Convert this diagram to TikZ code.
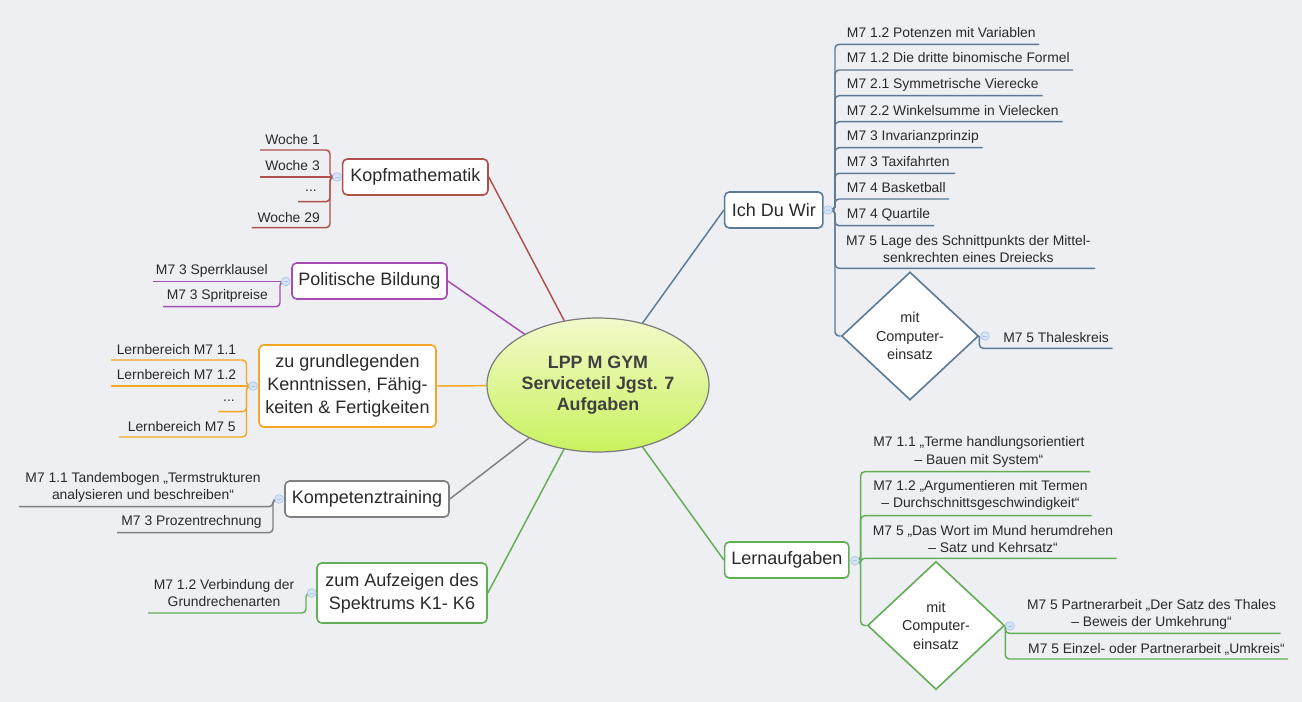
\documentclass[tikz,border=0pt]{standalone}
\usepackage{fontspec}
\setmainfont{Liberation Sans}
\usetikzlibrary{shapes.geometric}
\definecolor{bg}{HTML}{EEEFF3}
\definecolor{cK}{HTML}{B0504C}
\definecolor{cP}{HTML}{A54DB5}
\definecolor{cO}{HTML}{F5A623}
\definecolor{cG}{HTML}{808080}
\definecolor{cGr}{HTML}{62AD55}
\definecolor{cB}{HTML}{5A7A96}
\definecolor{txt}{HTML}{2A2A2A}
\definecolor{mk}{HTML}{D6E4F7}
\definecolor{mkb}{HTML}{A9C3E8}
\begin{document}
\begin{tikzpicture}[x=0.75pt,y=-0.75pt,
  topic/.style={draw=#1, line width=1.2pt, rounded corners=3.5pt, fill=white, inner sep=0pt, align=center, font=\fontsize{13.5pt}{17.2pt}\selectfont, text=txt},
  sub/.style={inner sep=0pt, font=\fontsize{10.4pt}{13.1pt}\selectfont, text=txt, align=center},
  conn/.style={draw=#1, line width=1.1pt},
  br/.style={draw=#1, line width=1.1pt, rounded corners=3pt},
  knob/.style={circle, draw=mkb, fill=mk, line width=0.5pt, minimum size=6.5pt, inner sep=0pt,
    path picture={\draw[mkb, line width=0.5pt] ([xshift=-1.6pt]path picture bounding box.center) -- ([xshift=1.6pt]path picture bounding box.center);}},
  dia/.style={diamond, draw=#1, line width=1.2pt, fill=white, inner sep=0pt, minimum width=102.75pt, minimum height=96pt, align=center, font=\fontsize{10.8pt}{13.9pt}\selectfont, text=txt},
]
\useasboundingbox (0,0) rectangle (1302,702);
\fill[bg] (0,0) rectangle (1302,702);

% root
\node[ellipse, draw={rgb,255:red,122;green,122;blue,122}, line width=0.9pt, minimum width=166.5pt, minimum height=100.5pt, inner sep=0pt,
  top color={rgb,255:red,243;green,250;blue,203}, bottom color={rgb,255:red,201;green,242;blue,94},
  align=center, font=\bfseries\fontsize{13.4pt}{16pt}\selectfont, text={rgb,255:red,64;green,64;blue,64}]
  (root) at (598,385) {LPP M GYM\\Serviceteil Jgst. 7\\Aufgaben};

% main topics
\node[topic=cK, minimum width=109pt, minimum height=27pt] (kopf) at (415.3,177) {Kopfmathematik};
\node[topic=cP, minimum width=116.3pt, minimum height=27pt] (polit) at (369.5,281) {Politische Bildung};
\node[topic=cO, minimum width=132.8pt, minimum height=61.5pt] (grund) at (347.5,386) {zu grundlegenden\\Kenntnissen, Fähig-\\keiten \& Fertigkeiten};
\node[topic=cG, minimum width=123pt, minimum height=27pt] (kompt) at (367,499) {Kompetenztraining};
\node[topic=cGr, minimum width=127.5pt, minimum height=45pt] (aufz) at (402,593) {zum Aufzeigen des\\Spektrums K1- K6};
\node[topic=cB, minimum width=73.7pt, minimum height=27pt] (ich) at (773.8,210) {Ich Du Wir};
\node[topic=cGr, minimum width=93.2pt, minimum height=27pt] (lern) at (786.8,560) {Lernaufgaben};

% connectors root - topics
\draw[conn=cK] (kopf.east) -- (root);
\draw[conn=cP] (polit.east) -- (root);
\draw[conn=cO] (grund.east) -- (root);
\draw[conn=cG] (kompt.east) -- (root);
\draw[conn=cGr] (aufz.east) -- (root);
\draw[conn=cB] (ich.west) -- (root);
\draw[conn=cGr] (lern.west) -- (root);

% knob points
\coordinate (kk) at (337,177);
\coordinate (pk) at (285.7,281.5);
\coordinate (gk) at (253,386);
\coordinate (ck) at (279,499);
\coordinate (ak) at (311.7,593);
\coordinate (ik) at (828,210);
\coordinate (lk) at (855,560.7);
\coordinate (ik2) at (985,336);
\coordinate (lk2) at (1010,626);

% Kopfmathematik children
\node[sub, anchor=base east] (w1) at (320,144.5) {Woche 1};
\node[sub, anchor=base east] (w3) at (320,170.5) {Woche 3};
\node[sub, anchor=base east] (wd) at (317,191.5) {...};
\node[sub, anchor=base east] (w29) at (320,222.3) {Woche 29};
\draw[br=cK] (kk) -| (330,150) -- (260,150);
\draw[br=cK] (kk) -- (260,177);
\draw[br=cK] (kk) -| (330,201.7) -- (298,201.7);
\draw[br=cK] (kk) -| (330,227.7) -- (251.7,227.7);

% Politische Bildung children
\node[sub, anchor=base east] (sp1) at (268,274) {M7 3 Sperrklausel};
\node[sub, anchor=base east] (sp2) at (268,299.5) {M7 3 Spritpreise};
\draw[br=cP] (pk) -- (152.7,281.5);
\draw[br=cP] (pk) -| (280,306.7) -- (163,306.7);

% grundlegend children
\node[sub, anchor=base east] (g1) at (236.5,354) {Lernbereich M7 1.1};
\node[sub, anchor=base east] (g2) at (236.5,379.5) {Lernbereich M7 1.2};
\node[sub, anchor=base east] (g3) at (235,401.5) {...};
\node[sub, anchor=base east] (g4) at (236,431) {Lernbereich M7 5};
\draw[br=cO] (gk) -| (246.5,360) -- (111,360);
\draw[br=cO] (gk) -- (111,386);
\draw[br=cO] (gk) -| (246.5,411.7) -- (218.3,411.7);
\draw[br=cO] (gk) -| (246.5,437) -- (119,437);

% Kompetenztraining children
\node[sub, anchor=base] (c1) at (143,499.5) {M7 1.1 Tandembogen „Termstrukturen\\analysieren und beschreiben“};
\node[sub, anchor=base east] (c2) at (262,525.5) {M7 3 Prozentrechnung};
\draw[br=cG] (ck) -| (273,506.7) -- (19,506.7);
\draw[br=cG] (ck) -| (273,532.7) -- (117,532.7);

% Aufzeigen child
\node[sub, anchor=base] (a1) at (224,606.5) {M7 1.2 Verbindung der\\Grundrechenarten};
\draw[br=cGr] (ak) -| (306,613) -- (148,613);

% Ich Du Wir children
\node[sub, anchor=base west] (p1) at (846.7,37.3) {M7 1.2 Potenzen mit Variablen};
\node[sub, anchor=base west] (p2) at (846.7,63) {M7 1.2 Die dritte binomische Formel};
\node[sub, anchor=base west] (p3) at (846.7,88.7) {M7 2.1 Symmetrische Vierecke};
\node[sub, anchor=base west] (p4) at (846.7,115.5) {M7 2.2 Winkelsumme in Vielecken};
\node[sub, anchor=base west] (p5) at (846.7,140.7) {M7 3 Invarianzprinzip};
\node[sub, anchor=base west] (p6) at (846.7,166.5) {M7 3 Taxifahrten};
\node[sub, anchor=base west] (p7) at (846.7,192.3) {M7 4 Basketball};
\node[sub, anchor=base west] (p8) at (846.7,218.8) {M7 4 Quartile};
\node[sub, anchor=base] (p9) at (968.4,262.5) {M7 5 Lage des Schnittpunkts der Mittel-\\senkrechten eines Dreiecks};
\draw[br=cB] (ik) -| (835,44.3) -- (1039,44.3);
\draw[br=cB] (ik) -| (835,70) -- (1073,70);
\draw[br=cB] (ik) -| (835,95.7) -- (1042.7,95.7);
\draw[br=cB] (ik) -| (835,121.7) -- (1062.7,121.7);
\draw[br=cB] (ik) -| (835,147.7) -- (982.7,147.7);
\draw[br=cB] (ik) -| (835,173.3) -- (955,173.3);
\draw[br=cB] (ik) -| (835,199) -- (949,199);
\draw[br=cB] (ik) -| (835,225.7) -- (934,225.7);
\draw[br=cB] (ik) -| (835,268.3) -- (1095,268.3);
\node[dia=cB] (idia) at (910,336) {mit\\Computer-\\einsatz};
\draw[br=cB] (ik) -| (835,336) -- (idia.west);
\node[sub, anchor=base west] (th) at (1003,342) {M7 5 Thaleskreis};
\draw[br=cB] (idia.east) |- (1112.7,348.3);

% Lernaufgaben children
\node[sub, anchor=base] (l1) at (979,464.2) {M7 1.1 „Terme handlungsorientiert\\– Bauen mit System“};
\node[sub, anchor=base] (l2) at (980.5,507.5) {M7 1.2 „Argumentieren mit Termen\\– Durchschnittsgeschwindigkeit“};
\node[sub, anchor=base] (l3) at (993,552.5) {M7 5 „Das Wort im Mund herumdrehen\\– Satz und Kehrsatz“};
\draw[br=cGr] (lk) -| (860.7,471.7) -- (1090,471.7);
\draw[br=cGr] (lk) -| (860.7,515.7) -- (1091.7,515.7);
\draw[br=cGr] (lk) -| (860.7,558.3) -- (1116.7,558.3);
\node[dia=cGr] (ldia) at (936,625.5) {mit\\Computer-\\einsatz};
\draw[br=cGr] (lk) -| (860.7,625.5) -- (ldia.west);
\node[sub, anchor=base] (d1) at (1151.5,626.8) {M7 5 Partnerarbeit „Der Satz des Thales\\– Beweis der Umkehrung“};
\node[sub, anchor=base] (d2) at (1156.5,653.3) {M7 5 Einzel- oder Partnerarbeit „Umkreis“};
\draw[br=cGr] (ldia.east) |- (1280.7,633.3);
\draw[br=cGr] (ldia.east) |- (1288,659);

% knobs
\node[knob] (kkn) at (kk) {};
\node[knob] (pkn) at (pk) {};
\node[knob] (gkn) at (gk) {};
\node[knob] (ckn) at (ck) {};
\node[knob] (akn) at (ak) {};
\node[knob] (ikn) at (ik) {};
\node[knob] (lkn) at (lk) {};
\node[knob] (ik2n) at (ik2) {};
\node[knob] (lk2n) at (lk2) {};
\end{tikzpicture}
\end{document}
